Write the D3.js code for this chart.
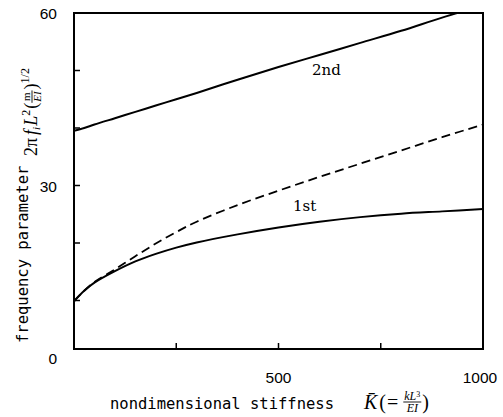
<!DOCTYPE html>
<html>
<head>
<meta charset="utf-8">
<script src="https://cdn.jsdelivr.net/npm/d3@7"></script>
<style>
body { margin: 0; background: #fff; }
</style>
</head>
<body>
<div id="chart"></div>
<script>
// values
var stiffness  = [0, 25, 50, 100, 150, 200, 250, 300, 400, 500, 600, 700, 800, 900, 1000];
var firstMode  = [9.87, 11.7, 13.1, 15.1, 16.8, 18.1, 19.2, 20.1, 21.5, 22.7, 23.7, 24.5, 25.1, 25.5, 25.9];
var dashedMode = [9.87, 11.7, 13.2, 15.4, 17.7, 19.9, 21.9, 23.7, 26.6, 29.1, 31.5, 33.8, 36.1, 38.4, 40.6];
var secondMode = [39.5, 40.0, 40.6, 41.7, 42.8, 43.9, 45.0, 46.1, 48.4, 50.6, 52.7, 54.8, 56.9, 59.2, 61.3];

var xTicks = [250, 500, 750];
var xTickLabels = [500, 1000];
var yTicks = [10, 20, 30, 40, 50];
var yTickLabels = [0, 30, 60];

var W = 503, H = 417;
var plotLeft = 74, plotRight = 483, plotTop = 13, frameBottom = 349, zeroY = 358;

var svg = d3.select('#chart').append('svg')
	.attr('width', W)
	.attr('height', H);

var x = d3.scaleLinear().domain([0, 1000]).range([plotLeft, plotRight]);
var y = d3.scaleLinear().domain([0, 60]).range([zeroY, plotTop]);

svg.append('clipPath').attr('id', 'plotclip')
	.append('rect')
	.attr('x', plotLeft).attr('y', plotTop)
	.attr('width', plotRight - plotLeft).attr('height', frameBottom - plotTop);

function series(vals) {
	return stiffness.map(function(k, i) { return [k, vals[i]]; });
}

var line = d3.line()
	.x(function(d) { return x(d[0]); })
	.y(function(d) { return y(d[1]); })
	.curve(d3.curveCatmullRom.alpha(0.5));

var curves = svg.append('g').attr('clip-path', 'url(#plotclip)');
curves.append('path').attr('d', line(series(dashedMode)))
	.attr('fill', 'none').attr('stroke', '#000').attr('stroke-width', 1.8)
	.attr('stroke-dasharray', '9,5');
curves.append('path').attr('d', line(series(firstMode)))
	.attr('fill', 'none').attr('stroke', '#000').attr('stroke-width', 2);
curves.append('path').attr('d', line(series(secondMode)))
	.attr('fill', 'none').attr('stroke', '#000').attr('stroke-width', 2);

// frame
svg.append('rect')
	.attr('x', plotLeft).attr('y', plotTop)
	.attr('width', plotRight - plotLeft).attr('height', frameBottom - plotTop)
	.attr('fill', 'none').attr('stroke', '#000').attr('stroke-width', 2);

// ticks
svg.selectAll('.xtick').data(xTicks).enter().append('line')
	.attr('x1', function(d) { return x(d); }).attr('x2', function(d) { return x(d); })
	.attr('y1', frameBottom).attr('y2', frameBottom - 6)
	.attr('stroke', '#000').attr('stroke-width', 1.5);
svg.selectAll('.ytick').data(yTicks).enter().append('line')
	.attr('x1', plotLeft).attr('x2', plotLeft + 6)
	.attr('y1', function(d) { return y(d); }).attr('y2', function(d) { return y(d); })
	.attr('stroke', '#000').attr('stroke-width', 1.5);

var sans = '"Liberation Sans", Arial, sans-serif';
var mono = '"DejaVu Sans Mono", monospace';
var serif = '"Liberation Serif", "Times New Roman", serif';

svg.selectAll('.ylab').data(yTickLabels).enter().append('text')
	.attr('x', plotLeft - 17).attr('y', function(d) { return y(d) + 6; })
	.attr('text-anchor', 'end')
	.style('font-family', sans).style('font-size', '15.5px')
	.text(function(d) { return d; });
svg.selectAll('.xlab').data(xTickLabels).enter().append('text')
	.attr('x', function(d) { return x(d) - (d === 1000 ? 3 : 0); })
	.attr('y', 383)
	.attr('text-anchor', 'middle')
	.style('font-family', sans).style('font-size', '15.5px')
	.text(function(d) { return d; });

// curve labels
svg.append('text').attr('x', 312).attr('y', 75)
	.style('font-family', '"DejaVu Serif", serif').style('font-size', '15px')
	.text('2nd');
svg.append('text').attr('x', 293).attr('y', 211)
	.style('font-family', '"DejaVu Serif", serif').style('font-size', '15px')
	.text('1st');

// sequential math layout
function runText(g, pieces, x0) {
	var cx = x0;
	pieces.forEach(function(p) {
		if (p.frac) {
			var fs = p.size;
			var num = g.append('text').style('font-family', serif).style('font-size', fs + 'px')
				.attr('y', -p.lift - 2.5);
			p.frac[0].forEach(function(s) {
				num.append('tspan').style('font-style', s.i ? 'italic' : 'normal')
					.attr('dy', s.dy || 0).style('font-size', (s.size || fs) + 'px').text(s.t);
			});
			var den = g.append('text').style('font-family', serif).style('font-size', fs + 'px')
				.attr('y', -p.lift + fs * 0.85);
			p.frac[1].forEach(function(s) {
				den.append('tspan').style('font-style', s.i ? 'italic' : 'normal').text(s.t);
			});
			var wn = num.node().getComputedTextLength();
			var wd = den.node().getComputedTextLength();
			var w = Math.max(wn, wd) + 2;
			num.attr('x', cx + (w - wn) / 2);
			den.attr('x', cx + (w - wd) / 2);
			g.append('line').attr('x1', cx).attr('x2', cx + w)
				.attr('y1', -p.lift).attr('y2', -p.lift)
				.attr('stroke', '#000').attr('stroke-width', 0.9);
			cx += w + 1;
		} else {
			var t = g.append('text').attr('x', cx).attr('y', p.dy || 0)
				.style('font-family', serif).style('font-size', p.size + 'px')
				.style('font-style', p.i ? 'italic' : 'normal')
				.text(p.t);
			cx += t.node().getComputedTextLength() + (p.gap || 0);
		}
	});
	return cx;
}

// y axis title
var yt = svg.append('g').attr('transform', 'translate(28,343) rotate(-90)');
yt.append('text').attr('x', 0).attr('y', 0)
	.style('font-family', mono).style('font-size', '15.5px')
	.text('frequency parameter');
var yf = svg.append('g').attr('transform', 'translate(37,156) rotate(-90)');
runText(yf, [
	{t: '2\u03c0', size: 18, gap: 3},
	{t: 'f', size: 18, i: true},
	{t: 'i', size: 11, i: true, dy: 3, gap: 1},
	{t: 'L', size: 18, i: true},
	{t: '2', size: 12, dy: -7, gap: 1},
	{t: '(', size: 18},
	{frac: [[{t: 'm'}], [{t: 'EI', i: true}]], size: 11, lift: 5},
	{t: ')', size: 18},
	{t: '1/2', size: 12, dy: -8}
], 0);

// x axis title
svg.append('text').attr('x', 110).attr('y', 409)
	.style('font-family', mono).style('font-size', '15.5px')
	.text('nondimensional stiffness');
var xf = svg.append('g').attr('transform', 'translate(364,409)');
runText(xf, [
	{t: 'K\u0304', size: 20, i: true, gap: 2},
	{t: '(', size: 20, gap: 1},
	{t: '=', size: 20, gap: 5},
	{frac: [[{t: 'kL', i: true}, {t: '3', size: 8, dy: -3}], [{t: 'EI', i: true}]], size: 12, lift: 7},
	{t: ')', size: 20}
], 0);
</script>
</body>
</html>
